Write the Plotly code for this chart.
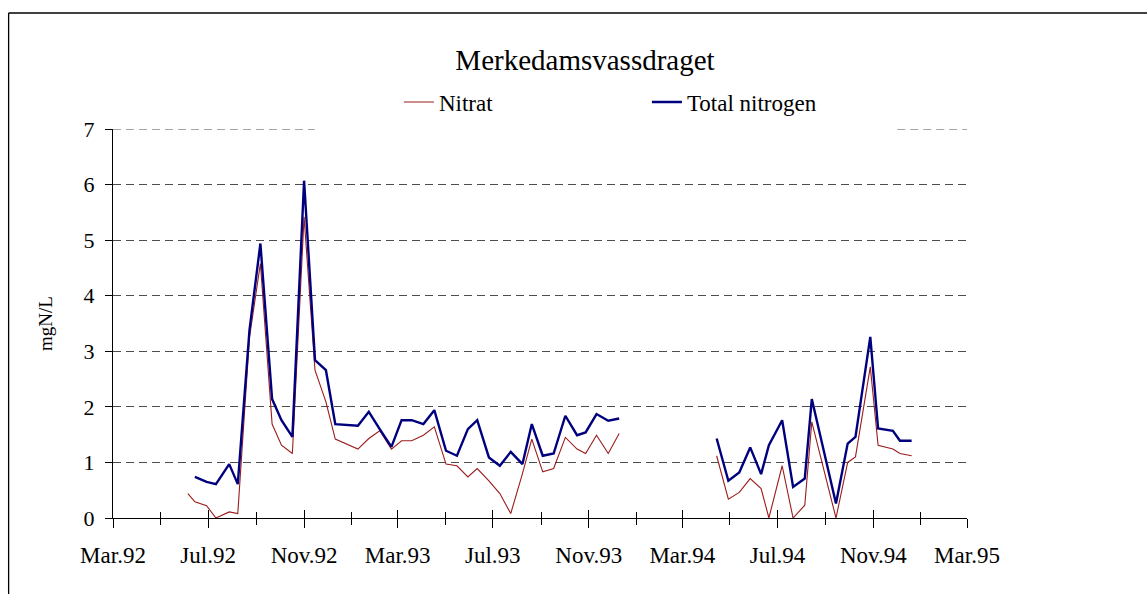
import plotly.graph_objects as go

# ---- data ----
dates = [
    "1992-06-05", "1992-06-14", "1992-06-29", "1992-07-11", "1992-07-28", "1992-08-08",
    "1992-08-23", "1992-09-06", "1992-09-21", "1992-10-03", "1992-10-17", "1992-11-01",
    "1992-11-15", "1992-11-29", "1992-12-11", "1993-01-09", "1993-01-23", "1993-02-06",
    "1993-02-21", "1993-03-06", "1993-03-19", "1993-04-03", "1993-04-17", "1993-05-02",
    "1993-05-16", "1993-05-30", "1993-06-11", "1993-06-26", "1993-07-10", "1993-07-24",
    "1993-08-08", "1993-08-20", "1993-09-03", "1993-09-17", "1993-10-02", "1993-10-17",
    "1993-10-28", "1993-11-11", "1993-11-26", "1993-12-10",
    "1994-02-15",
    "1994-04-14", "1994-04-29", "1994-05-13", "1994-05-27", "1994-06-10", "1994-06-20",
    "1994-07-07", "1994-07-21", "1994-08-05", "1994-08-14", "1994-09-14", "1994-09-29",
    "1994-10-09", "1994-10-28", "1994-11-07", "1994-11-26", "1994-12-05", "1994-12-20",
]
nitrat = [
    0.44, 0.29, 0.22, 0.00, 0.11, 0.08,
    3.25, 4.58, 1.69, 1.31, 1.16, 5.42,
    2.66, 2.09, 1.42, 1.24, 1.43, 1.57,
    1.24, 1.39, 1.39, 1.49, 1.64, 0.97,
    0.94, 0.74, 0.89, 0.67, 0.44, 0.08,
    0.80, 1.42, 0.83, 0.89, 1.45, 1.24,
    1.16, 1.49, 1.16, 1.52,
    None,
    1.12, 0.34, 0.46, 0.71, 0.53, 0.00,
    0.94, 0.00, 0.23, 1.73, 0.00, 1.00,
    1.10, 2.72, 1.31, 1.24, 1.16, 1.12,
]
total_nitrogen = [
    None, 0.74, 0.65, 0.61, 0.97, 0.61,
    3.38, 4.94, 2.14, 1.76, 1.46, 6.07,
    2.84, 2.66, 1.69, 1.66, 1.91, 1.60,
    1.28, 1.76, 1.76, 1.69, 1.94, 1.21,
    1.12, 1.60, 1.76, 1.09, 0.94, 1.19,
    0.97, 1.69, 1.12, 1.16, 1.84, 1.49,
    1.54, 1.87, 1.75, 1.79,
    None,
    1.43, 0.67, 0.82, 1.27, 0.79, 1.31,
    1.76, 0.56, 0.71, 2.14, 0.26, 1.34,
    1.46, 3.26, 1.61, 1.57, 1.39, 1.39,
]
tick_dates = ["1992-03-01", "1992-07-01", "1992-11-01", "1993-03-01", "1993-07-01",
              "1993-11-01", "1994-03-01", "1994-07-01", "1994-11-01", "1995-03-01"]
tick_labels = ["Mar.92", "Jul.92", "Nov.92", "Mar.93", "Jul.93",
               "Nov.93", "Mar.94", "Jul.94", "Nov.94", "Mar.95"]
y_ticks = [0, 1, 2, 3, 4, 5, 6, 7]
x_range = ["1992-03-01", "1995-03-01"]
y_range = [0, 7]

FONT = "Liberation Serif, Times New Roman, serif"
GRID = "#4d4d4d"
GRID_DASH = "8px,5px"

fig = go.Figure()
fig.add_trace(go.Scatter(x=dates, y=nitrat, name="Nitrat", mode="lines",
                         line=dict(color="#9b1c1c", width=1.1), connectgaps=False))
fig.add_trace(go.Scatter(x=dates, y=total_nitrogen, name="Total nitrogen", mode="lines",
                         line=dict(color="#00007f", width=2.4), connectgaps=False))
# invisible trace so the overlay axis (for crossing ticks) is drawn
fig.add_trace(go.Scatter(x=[x_range[0]], y=[None], xaxis="x2", yaxis="y",
                         showlegend=False, hoverinfo="skip", mode="lines"))

W, H = 1147, 594
L, R, T, B = 113.3, 180.3, 129, 76
pw, ph = W - L - R, H - T - B


def px_x(p):
    return (p - L) / pw


def px_y(p):
    return (H - B - p) / ph


fig.update_layout(
    width=W, height=H,
    margin=dict(l=L, r=R, t=T, b=B, pad=0),
    paper_bgcolor="white", plot_bgcolor="white",
    font=dict(family=FONT, color="black", size=22),
    title=dict(text="Merkedamsvassdraget", font=dict(size=29, family=FONT),
               x=585 / W, xref="container", xanchor="center",
               y=1 - 60 / H, yref="container", yanchor="middle"),
    showlegend=True,
    legend=dict(orientation="h", x=px_x(399), xanchor="left", y=px_y(102), yanchor="middle",
                font=dict(size=23, family=FONT), bgcolor="rgba(0,0,0,0)",
                entrywidth=203, entrywidthmode="pixels", traceorder="normal"),
    xaxis=dict(type="date", range=x_range, tickvals=tick_dates, ticktext=tick_labels,
               showgrid=False, zeroline=False, showline=True, linecolor="black", linewidth=1,
               ticks="outside", ticklen=9, tickwidth=1, tickcolor="black",
               ticklabelstandoff=7,
               minor=dict(dtick="M2", tick0="1992-03-01", ticks="outside", ticklen=6,
                          tickcolor="black", tickwidth=1, showgrid=False),
               tickfont=dict(size=23, family=FONT)),
    xaxis2=dict(type="date", range=x_range, overlaying="x", anchor="y", side="bottom",
                tickvals=tick_dates, showticklabels=False, showgrid=False, zeroline=False,
                showline=False, ticks="inside", ticklen=8, tickwidth=1, tickcolor="black",
                minor=dict(dtick="M2", tick0="1992-03-01", ticks="inside", ticklen=6,
                           tickcolor="black", tickwidth=1, showgrid=False)),
    yaxis=dict(range=y_range, tickvals=y_ticks, showgrid=True, gridcolor=GRID,
               gridwidth=1, griddash=GRID_DASH, zeroline=False, showline=True,
               linecolor="black", linewidth=1, ticks="outside", ticklen=7, tickcolor="black",
               ticklabelstandoff=6,
               tickfont=dict(size=22, family=FONT),
               title=dict(text="mgN/L", font=dict(size=19, family=FONT), standoff=25)),
    shapes=[
        # outer chart frame (left and top edges; the rest lies outside the picture)
        dict(type="line", xref="paper", yref="paper", x0=px_x(9), x1=px_x(9),
             y0=px_y(H + 5), y1=px_y(13), line=dict(color="black", width=1.3), layer="above"),
        dict(type="line", xref="paper", yref="paper", x0=px_x(9), x1=px_x(W + 5),
             y0=px_y(13), y1=px_y(13), line=dict(color="black", width=1.3), layer="above"),
        # top gridline (plotly drops gridlines at the plot edge); interrupted by the legend
        dict(type="line", xref="paper", yref="y", x0=0, x1=px_x(315),
             y0=y_range[1], y1=y_range[1],
             line=dict(color=GRID, width=1, dash=GRID_DASH), layer="between"),
        dict(type="line", xref="paper", yref="y", x0=px_x(897), x1=1,
             y0=y_range[1], y1=y_range[1],
             line=dict(color=GRID, width=1, dash=GRID_DASH), layer="between"),
    ],
)

fig.write_html("out.html",
               config=dict(displayModeBar=False),
               post_script="document.body.style.margin='0px';document.body.style.overflow='hidden';")
